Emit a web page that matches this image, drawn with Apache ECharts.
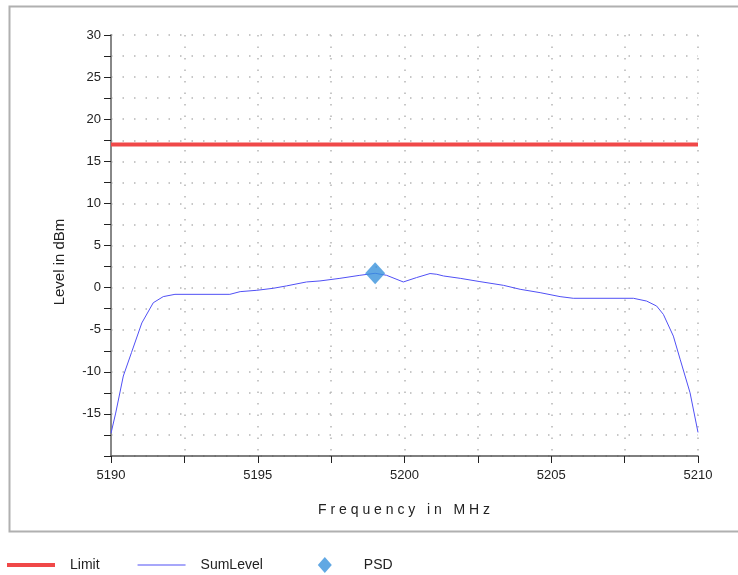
<!DOCTYPE html>
<html>
<head>
<meta charset="utf-8">
<script src="https://cdn.jsdelivr.net/npm/echarts@6/dist/echarts.min.js"></script>
<style>html,body{margin:0;padding:0;background:#fff;}#c{width:738px;height:575px;}</style>
</head>
<body>
<div id="c"></div>
<script>
var sumFreq = [5190.0, 5190.16, 5190.42, 5190.7, 5191.05, 5191.44, 5191.78, 5192.18, 5194.05, 5194.4, 5194.97, 5195.53, 5195.98, 5196.66, 5197.12, 5197.8, 5198.48, 5199.0, 5199.39, 5199.96, 5200.41, 5200.87, 5201.1, 5201.33, 5201.9, 5202.57, 5203.37, 5203.94, 5204.62, 5205.3, 5205.75, 5207.8, 5208.25, 5208.59, 5208.82, 5209.16, 5209.39, 5209.73, 5210.0];
var sumLevel = [-17.3, -14.9, -10.5, -7.7, -4.2, -1.8, -1.07, -0.8, -0.8, -0.48, -0.32, -0.08, 0.2, 0.67, 0.79, 1.1, 1.46, 1.7, 1.46, 0.67, 1.19, 1.67, 1.58, 1.38, 1.1, 0.71, 0.27, -0.2, -0.6, -1.07, -1.27, -1.27, -1.6, -2.19, -3.18, -5.76, -8.5, -12.5, -17.2];
var limitFreq = [5190, 5210];
var limitLevel = [17, 17];
var psdFreq = [5199.0];
var psdLevel = [1.7];
var xLabels = [5190, 5195, 5200, 5205, 5210];
var yLabels = [-15, -10, -5, 0, 5, 10, 15, 20, 25, 30];

function pairs(xs, ys){ return xs.map(function(x,i){ return [x, ys[i]]; }); }

var chart = echarts.init(document.getElementById('c'), null, {renderer:'canvas'});
var font = 'Liberation Sans, Arial, sans-serif';
var dotted = {show:true, lineStyle:{color:'#b5b5b5', width:1.5, type:[1.5,10]}};
chart.setOption({
  animation:false,
  textStyle:{fontFamily:font},
  grid:{left:111, right:40, top:35, bottom:119, containLabel:false},
  xAxis:{type:'value', min:5190, max:5210, interval:2.5,
    axisLine:{show:true, onZero:false, lineStyle:{color:'#555', width:1.5}},
    axisTick:{show:true, length:7, lineStyle:{color:'#222', width:1}},
    axisLabel:{color:'#222', fontSize:13, margin:13, fontFamily:font,
      formatter:function(v){ return xLabels.indexOf(v) >= 0 ? String(v) : ''; }},
    splitLine:dotted},
  yAxis:{type:'value', min:-20, max:30, interval:2.5,
    axisLine:{show:true, onZero:false, lineStyle:{color:'#888', width:2}},
    axisTick:{show:true, length:7, lineStyle:{color:'#222', width:1}},
    axisLabel:{color:'#222', fontSize:13, margin:10, fontFamily:font,
      formatter:function(v){ return yLabels.indexOf(v) >= 0 ? String(v) : ''; }},
    splitLine:dotted},
  legend:{left:7, top:557, padding:0, itemWidth:48, itemHeight:16, itemGap:38,
    textStyle:{color:'#222', fontSize:14, fontFamily:font, padding:[0,0,0,10]},
    data:[
      {name:'Limit', icon:'path://M0,0M48,16M0,6H48V10H0Z'},
      {name:'SumLevel', icon:'path://M0,0M48,16M0,7.5H48V8.5H0Z'},
      {name:'PSD', icon:'path://M0,0M48,16M24,0L31,8L24,16L17,8Z'}
    ]},
  graphic:[
    {type:'rect', left:7, top:4, shape:{width:745, height:525}, style:{fill:'none', stroke:'#b0b0b0', lineWidth:2}, z:-1},
    {type:'text', x:60, y:262, rotation:Math.PI/2, style:{text:'Level in dBm', fill:'#222', font:'15px ' + font, textAlign:'center', textVerticalAlign:'middle'}},
    {type:'text', x:404, y:510, style:{text:'F r e q u e n c y   i n   M H z', fill:'#222', font:'14px ' + font, textAlign:'center', textVerticalAlign:'middle'}}
  ],
  series:[
    {name:'Limit', type:'line', data:pairs(limitFreq, limitLevel), symbol:'none', lineStyle:{color:'#f04848', width:4}, itemStyle:{color:'#f04848'}, z:3},
    {name:'SumLevel', type:'line', data:pairs(sumFreq, sumLevel), symbol:'none', lineStyle:{color:'#5050f5', width:1}, itemStyle:{color:'#5050f5'}, z:4},
    {name:'PSD', type:'scatter', data:pairs(psdFreq, psdLevel), symbol:'diamond', symbolSize:[20,22], itemStyle:{color:'#3a92dc'}, z:5}
  ]
});
</script>
</body>
</html>
